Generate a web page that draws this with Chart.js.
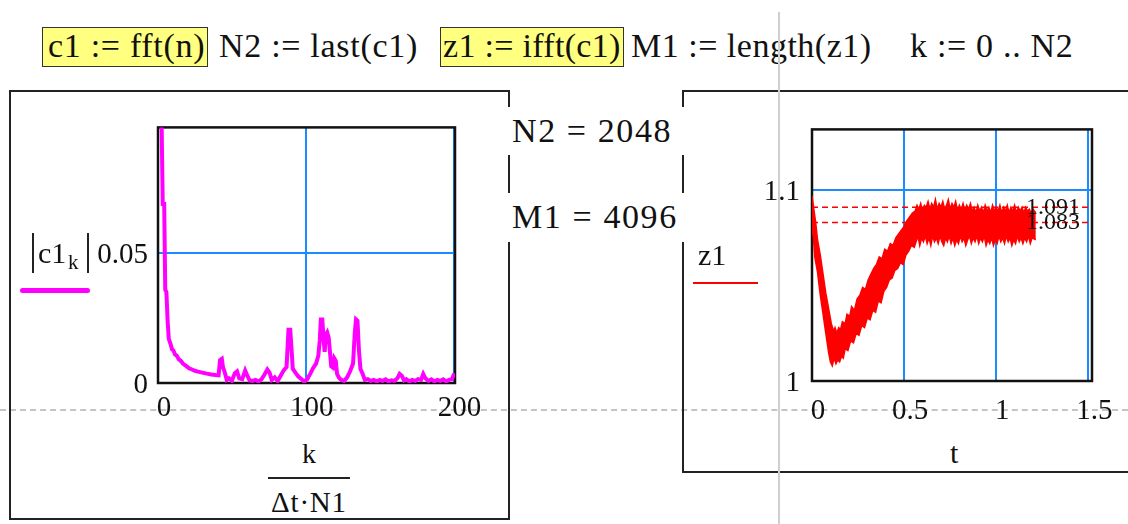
<!DOCTYPE html>
<html>
<head>
<meta charset="utf-8">
<script src="https://cdn.jsdelivr.net/npm/chart.js@4.4.1/dist/chart.umd.min.js"></script>
<style>
  body { margin: 0; width: 1128px; height: 524px; background: #fff; position: relative; overflow: hidden;
         font-family: "Liberation Serif", "Times New Roman", serif; color: #111; }
  .t { position: absolute; white-space: pre; line-height: 1; z-index: 2; }
  .box { position: absolute; background: #ffff80; border: 1.5px solid #333; box-sizing: border-box; z-index: 1; }
  .ln { position: absolute; background: #222; z-index: 2; }
  canvas { position: absolute; z-index: 1; }
  .page-h { position: absolute; left: 0; top: 409px; width: 1128px; border-top: 2px dashed #c4c4c4; z-index: 0; }
  .page-v { position: absolute; left: 778px; top: 12px; width: 2px; height: 512px; background: #cfcfcf; z-index: 3; }
</style>
</head>
<body>
<div class="page-h"></div>
<div class="page-v"></div>
<canvas id="specChart" width="460" height="330" style="left:40px;top:100px"></canvas>
<canvas id="timeChart" width="408" height="330" style="left:720px;top:100px"></canvas>
<script>
// spectrum |c1_k| against k/(dt*N1)
const freqX = [0, 0.8, 1.7, 2.5, 3.2, 4.2, 4.9, 5.7, 6.5, 7.3, 8.5, 9.5, 10.5, 11.5, 12.8, 14, 15.5, 17, 19, 21,
  23, 25, 27, 30, 33, 36, 39, 41, 42, 43.2, 44, 45, 46.5, 48, 50, 52, 53.5, 55, 57, 59, 60.5, 62, 64, 66, 68, 70,
  72, 74, 75.5, 77, 79, 81, 83, 85, 87, 88.3, 89.5, 90.5, 91.2, 93, 95, 97, 99, 101, 103, 105, 107, 108.5, 109.5,
  110.2, 111.2, 112, 112.8, 113.5, 114.5, 115.5, 116.3, 117.2, 118.3, 119.3, 120.3, 121.2, 122.5, 124, 126, 128,
  130, 132, 133.2, 134, 135, 136, 137, 138.5, 140, 142, 144, 146, 148, 150, 152, 154, 156, 158, 160, 162, 163.5,
  165, 166.5, 168, 170, 172, 174, 176, 178, 179.5, 181, 183, 185, 187, 189, 191, 193, 195, 197, 199, 200, 201];
const magY = [1.07, 0.30, 0.16, 0.098, 0.069, 0.069, 0.036, 0.035, 0.024, 0.017, 0.015, 0.013, 0.0125, 0.011,
  0.0105, 0.0092, 0.0085, 0.0074, 0.0066, 0.0057, 0.0052, 0.0047, 0.0044, 0.004, 0.0036, 0.0033, 0.0031, 0.003,
  0.0088, 0.0093, 0.006, 0.0045, 0.0012, 0.0018, 0.0008, 0.0038, 0.0045, 0.0018, 0.0015, 0.0048, 0.0028, 0.001,
  0.0008, 0.0012, 0.0006, 0.0014, 0.0032, 0.0052, 0.004, 0.0012, 0.0022, 0.0008, 0.0028, 0.0048, 0.0062, 0.0205,
  0.0205, 0.012, 0.0055, 0.004, 0.0025, 0.0015, 0.0005, 0.0015, 0.0035, 0.0058, 0.0075, 0.0105, 0.0165, 0.0245,
  0.0245, 0.0175, 0.012, 0.0185, 0.0195, 0.0175, 0.0125, 0.0065, 0.006, 0.0095, 0.0085, 0.0035, 0.002, 0.0012,
  0.0008, 0.0022, 0.0045, 0.0075, 0.0195, 0.0245, 0.024, 0.0125, 0.0055, 0.0035, 0.0012, 0.0015, 0.0008, 0.0012,
  0.0006, 0.0012, 0.0008, 0.0014, 0.0006, 0.001, 0.0008, 0.0018, 0.0035, 0.0028, 0.001, 0.0015, 0.0006, 0.0012,
  0.0008, 0.0015, 0.0012, 0.0035, 0.0018, 0.0008, 0.0014, 0.0006, 0.0012, 0.0008, 0.0014, 0.0006, 0.0012, 0.0015,
  0.003, 0.003];

// z1 against t: the noisy trace is drawn as the band between its upper and lower edge
const timeUpper = [0, 0.01, 0.02, 0.03, 0.045, 0.06, 0.075, 0.09, 0.105, 0.118, 0.125, 0.135, 0.145, 0.155, 0.165,
  0.18, 0.19, 0.205, 0.215, 0.23, 0.245, 0.26, 0.275, 0.29, 0.305, 0.32, 0.335, 0.35, 0.365, 0.38, 0.395, 0.41,
  0.425, 0.44, 0.455, 0.47, 0.485, 0.5, 0.515, 0.53, 0.545,
  0.56, 0.57, 0.58, 0.59, 0.6, 0.61, 0.62, 0.63, 0.64, 0.65, 0.66, 0.67, 0.68, 0.69, 0.7, 0.71, 0.72, 0.73, 0.74,
  0.75, 0.76, 0.77, 0.78, 0.79, 0.8, 0.81, 0.82, 0.83, 0.84, 0.85, 0.86, 0.87, 0.88, 0.89, 0.9, 0.91, 0.92, 0.93,
  0.94, 0.95, 0.96, 0.97, 0.98, 0.99, 1.0, 1.01, 1.02, 1.03, 1.04, 1.05, 1.06, 1.07, 1.08, 1.09, 1.1, 1.11, 1.12,
  1.13, 1.14, 1.15, 1.16, 1.17, 1.18, 1.19, 1.2, 1.215];
const zUpper = [1.097, 1.09, 1.083, 1.074, 1.066, 1.056, 1.046, 1.038, 1.03, 1.026, 1.028, 1.025, 1.028, 1.027,
  1.031, 1.03, 1.035, 1.034, 1.039, 1.037, 1.043, 1.045, 1.049, 1.048, 1.053, 1.056, 1.059, 1.061, 1.065, 1.064,
  1.069, 1.068, 1.072, 1.071, 1.075, 1.077, 1.079, 1.081, 1.084, 1.086, 1.088,
  1.089, 1.092, 1.09, 1.093, 1.089, 1.092, 1.091, 1.094, 1.09, 1.093, 1.091, 1.095, 1.09, 1.093, 1.091, 1.094,
  1.09, 1.092, 1.095, 1.09, 1.093, 1.091, 1.094, 1.089, 1.092, 1.09, 1.093, 1.089, 1.092, 1.09, 1.093, 1.089,
  1.091, 1.088, 1.092, 1.089, 1.091, 1.088, 1.092, 1.089, 1.091, 1.088, 1.092, 1.089, 1.091, 1.089, 1.092, 1.088,
  1.091, 1.089, 1.092, 1.088, 1.091, 1.089, 1.092, 1.088, 1.091, 1.089, 1.091, 1.088, 1.091, 1.089, 1.09, 1.088,
  1.09, 1.088];
const timeLower = [0, 0.008, 0.015, 0.03, 0.045, 0.06, 0.075, 0.09, 0.1, 0.11, 0.12, 0.13, 0.14, 0.15, 0.16, 0.17,
  0.18, 0.195, 0.21, 0.225, 0.24, 0.255, 0.27, 0.285, 0.3, 0.315, 0.33, 0.345, 0.36, 0.375, 0.39, 0.405, 0.42,
  0.435, 0.45, 0.465, 0.48, 0.495, 0.51, 0.525, 0.54, 0.555,
  0.565, 0.575, 0.585, 0.595, 0.605, 0.615, 0.625, 0.635, 0.645, 0.655, 0.665, 0.675, 0.685, 0.695, 0.705, 0.715,
  0.725, 0.735, 0.745, 0.755, 0.765, 0.775, 0.785, 0.795, 0.805, 0.815, 0.825, 0.835, 0.845, 0.855, 0.865, 0.875,
  0.885, 0.895, 0.905, 0.915, 0.925, 0.935, 0.945, 0.955, 0.965, 0.975, 0.985, 0.995, 1.005, 1.015, 1.025, 1.035,
  1.045, 1.055, 1.065, 1.075, 1.085, 1.095, 1.105, 1.115, 1.125, 1.135, 1.145, 1.155, 1.165, 1.175, 1.185, 1.195,
  1.215];
const zLower = [1.08, 1.075, 1.065, 1.057, 1.045, 1.035, 1.025, 1.015, 1.01, 1.008, 1.012, 1.009, 1.011, 1.01,
  1.013, 1.012, 1.017, 1.016, 1.021, 1.02, 1.025, 1.024, 1.029, 1.028, 1.033, 1.032, 1.037, 1.036, 1.042, 1.041,
  1.047, 1.049, 1.053, 1.054, 1.058, 1.059, 1.062, 1.061, 1.066, 1.068, 1.071, 1.07,
  1.073, 1.076, 1.071, 1.075, 1.073, 1.076, 1.072, 1.075, 1.071, 1.076, 1.073, 1.075, 1.072, 1.076, 1.073, 1.071,
  1.075, 1.073, 1.076, 1.072, 1.075, 1.071, 1.074, 1.072, 1.076, 1.073, 1.075, 1.071, 1.074, 1.076, 1.072, 1.075,
  1.073, 1.076, 1.072, 1.075, 1.073, 1.076, 1.071, 1.074, 1.072, 1.075, 1.071, 1.074, 1.072, 1.076, 1.073, 1.075,
  1.072, 1.076, 1.073, 1.075, 1.071, 1.074, 1.072, 1.076, 1.073, 1.075, 1.072, 1.075, 1.073, 1.076, 1.072, 1.075,
  1.074];

const markerValues = [1.091, 1.083];
const markerLabels = ["1.091", "1.083"];

const specXTicks = [0, 100, 200];
const specYTicks = [0, 0.05];
const timeXTicks = [0, 0.5, 1, 1.5];
const timeYTicks = [1, 1.1];

const GRID = "#1a8cff";
const tickFont = { family: "Liberation Serif", size: 29 };

function place(text, x, baseline, size, extra) {
  const s = document.createElement("span");
  s.className = "t";
  s.textContent = text;
  s.style.left = x + "px";
  s.style.top = (baseline - 0.8375 * size) + "px";
  s.style.fontSize = size + "px";
  if (extra) Object.assign(s.style, extra);
  document.body.appendChild(s);
  return s;
}
function rect(cls, x, y, w, h, extra) {
  const d = document.createElement("div");
  d.className = cls;
  Object.assign(d.style, { left: x + "px", top: y + "px", width: w + "px", height: h + "px" }, extra || {});
  document.body.appendChild(d);
}

// header line
const hdr = { letterSpacing: "0.7px" };
rect("box", 42, 27, 166, 40);
rect("box", 440, 27, 184, 40);
place("c1 := fft(n)", 48, 57, 34, hdr);
place("N2 := last(c1)", 219, 57, 34, hdr);
place("z1 := ifft(c1)", 443, 57, 34, { letterSpacing: "0.3px" });
place("M1 := length(z1)", 631, 57, 34, { letterSpacing: "0.5px" });
place("k := 0 .. N2", 910, 57, 34, hdr);

// region frames (the inner edges are broken by the N2 / M1 results)
rect("ln", 9, 90, 501, 2);
rect("ln", 9, 518, 501, 2);
rect("ln", 9, 90, 2, 430);
rect("ln", 508, 90, 2, 17);
rect("ln", 508, 155, 2, 38);
rect("ln", 508, 242, 2, 278);
rect("ln", 682, 90, 446, 2);
rect("ln", 682, 471, 446, 2);
rect("ln", 682, 90, 2, 17);
rect("ln", 682, 155, 2, 38);
rect("ln", 682, 242, 2, 231);

place("N2 = 2048", 512, 142, 34, { letterSpacing: "1.6px" });
place("M1 = 4096", 512, 228, 34, { letterSpacing: "1.6px" });

// left legend |c1_k|
rect("ln", 32, 233, 2, 40);
rect("ln", 87, 233, 2, 40);
place("c1", 38, 263, 30);
place("k", 68, 270, 21);
rect("ln", 20, 288, 70, 5, { background: "#ff00ff", borderRadius: "3px" });
// left x title k/(Δt·N1)
place("k", 268, 463, 28, { width: "82px", textAlign: "center" });
rect("ln", 268, 477, 82, 2);
place("Δt·N1", 262, 512, 29, { width: "94px", textAlign: "center", letterSpacing: "0.8px" });

// right legend and title
place("z1", 698, 265, 30);
rect("ln", 693, 282, 65, 2, { background: "#ff0000" });
place("t", 950, 463, 30);

const boxPlugin = {
  id: "box",
  beforeDatasetsDraw(chart) {
    const { ctx, chartArea: a } = chart;
    ctx.save();
    ctx.strokeStyle = "#111";
    ctx.lineWidth = 2.5;
    ctx.strokeRect(a.left, a.top, a.right - a.left, a.bottom - a.top);
    ctx.restore();
  }
};

const markerPlugin = {
  id: "markers",
  afterDatasetsDraw(chart) {
    const { ctx, chartArea: a } = chart;
    const y = chart.scales.y;
    ctx.save();
    ctx.fillStyle = "#111";
    ctx.font = '24px "Liberation Serif"';
    ctx.textAlign = "right";
    ctx.textBaseline = "middle";
    markerValues.forEach((v, i) => {
      ctx.fillText(markerLabels[i], a.right - 12, y.getPixelForValue(v));
    });
    ctx.restore();
  }
};

function axis(min, max, tickList, size, padding, offset, isX) {
  return {
    type: "linear",
    min: min,
    max: max,
    afterBuildTicks: (s) => { s.ticks = tickList.map((v) => ({ value: v })); },
    afterFit: (s) => { if (isX) s.height = size; else s.width = size; },
    grid: { color: GRID, lineWidth: 2, drawTicks: false },
    border: { display: false },
    ticks: {
      color: "#111",
      font: tickFont,
      padding: padding,
      labelOffset: offset,
      autoSkip: false,
      maxRotation: 0,
      callback: (v) => String(v)
    }
  };
}

new Chart(document.getElementById("specChart"), {
  type: "line",
  data: {
    datasets: [{
      data: freqX.map((x, i) => ({ x: x, y: magY[i] })),
      borderColor: "#ff00ff",
      borderWidth: 4,
      pointRadius: 0,
      tension: 0
    }]
  },
  options: {
    responsive: false,
    animation: false,
    devicePixelRatio: 1,
    layout: { padding: { left: 0, right: 45, top: 23, bottom: 0 } },
    plugins: { legend: { display: false }, tooltip: { enabled: false } },
    scales: {
      x: axis(0, 201, specXTicks, 47, 8, 6, true),
      y: axis(0, 0.0985, specYTicks, 118, 10, 2, false)
    }
  },
  plugins: [boxPlugin]
});

new Chart(document.getElementById("timeChart"), {
  type: "line",
  data: {
    datasets: [
      {
        data: timeUpper.map((x, i) => ({ x: x, y: zUpper[i] })),
        borderColor: "#ff0000",
        borderWidth: 1.5,
        pointRadius: 0,
        tension: 0,
        fill: false
      },
      {
        data: timeLower.map((x, i) => ({ x: x, y: zLower[i] })),
        borderColor: "#ff0000",
        backgroundColor: "#ff0000",
        borderWidth: 1.5,
        pointRadius: 0,
        tension: 0,
        fill: "-1"
      },
      ...markerValues.map((v) => ({
        data: [{ x: 0, y: v }, { x: 1.52, y: v }],
        borderColor: "#ff0000",
        borderWidth: 1.5,
        borderDash: [6, 4],
        pointRadius: 0,
        fill: false
      }))
    ]
  },
  options: {
    responsive: false,
    animation: false,
    devicePixelRatio: 1,
    layout: { padding: { left: 0, right: 36, top: 24, bottom: 0 } },
    plugins: { legend: { display: false }, tooltip: { enabled: false } },
    scales: {
      x: axis(0, 1.52, timeXTicks, 49, 13, 6, true),
      y: axis(1, 1.1318, timeYTicks, 92, 12, 2, false)
    }
  },
  plugins: [boxPlugin, markerPlugin]
});
</script>
</body>
</html>
